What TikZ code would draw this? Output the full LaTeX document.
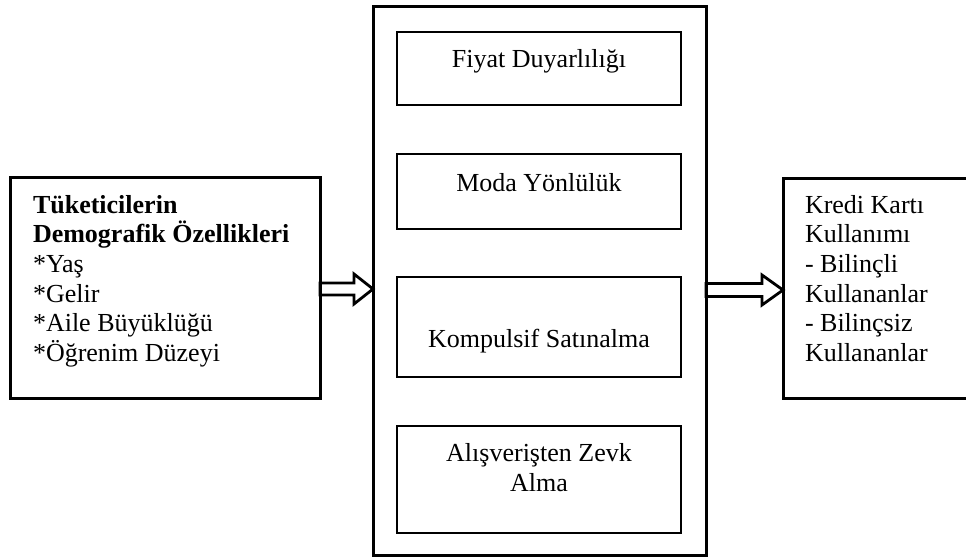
\documentclass[tikz,border=0pt]{standalone}
\usepackage{fontspec}
\setmainfont{Liberation Serif}
\begin{document}
\begin{tikzpicture}[x=1pt,y=-1pt,
  txt/.style={font=\fontsize{26}{29.7}\selectfont, inner sep=0pt, outer sep=0pt},
  bigbox/.style={draw, line width=3pt, inner sep=0pt, outer sep=0pt, anchor=north west},
  smallbox/.style={draw, line width=1.3pt, inner sep=0pt, outer sep=0pt, anchor=north west,
    minimum width=284pt},
  barrow/.style={draw, fill=white, line width=2.8pt, line join=miter}
]
\useasboundingbox (0,0) rectangle (966,557);
\clip (0,0) rectangle (966,557);
% boxes
\node[bigbox, minimum width=310pt, minimum height=221pt] (L) at (10,177) {};
\node[bigbox, minimum width=333pt, minimum height=549pt] (M) at (373,6) {};
\node[bigbox, minimum width=230pt, minimum height=220pt] (R) at (783,178) {};
\node[smallbox, minimum height=73pt] (B1) at (397,32) {};
\node[smallbox, minimum height=75pt] (B2) at (397,154) {};
\node[smallbox, minimum height=100pt] (B3) at (397,277) {};
\node[smallbox, minimum height=107pt] (B4) at (397,426) {};
% texts
\node[txt, anchor=base west] (Lt) at (33,213) {\parbox[t]{290pt}{\baselineskip=29.7pt
  \textbf{Tüketicilerin}\\
  \textbf{Demografik Özellikleri}\\
  {*}Yaş\\
  {*}Gelir\\
  {*}Aile Büyüklüğü\\
  {*}Öğrenim Düzeyi}};
\node[txt, anchor=base west] (Rt) at (805,213) {\parbox[t]{160pt}{\baselineskip=29.7pt
  Kredi Kartı\\
  Kullanımı\\
  - Bilinçli\\
  Kullananlar\\
  - Bilinçsiz\\
  Kullananlar}};
\node[txt, anchor=base] (T1) at (539,67) {Fiyat Duyarlılığı};
\node[txt, anchor=base] (T2) at (539,191) {Moda Yönlülük};
\node[txt, anchor=base] (T3) at (539,347) {Kompulsif Satınalma};
\node[txt, anchor=base] (T4) at (539,461) {\parbox[t]{284pt}{\centering\baselineskip=30.5pt
  Alışverişten Zevk\\ Alma}};
% block arrows
\coordinate (ltip) at (M.west |- 0,289);
\coordinate (lstart) at (L.east |- 0,289);
\draw[barrow] ([yshift=6pt]lstart) -- ([xshift=-19pt,yshift=6pt]ltip)
  -- ([xshift=-19pt,yshift=15pt]ltip) -- (ltip)
  -- ([xshift=-19pt,yshift=-15pt]ltip) -- ([xshift=-19pt,yshift=-6pt]ltip)
  -- ([yshift=-6pt]lstart) -- cycle;
\coordinate (rtip) at (R.west |- 0,290);
\coordinate (rstart) at (M.east |- 0,290);
\draw[barrow] ([yshift=6.5pt]rstart) -- ([xshift=-21pt,yshift=6.5pt]rtip)
  -- ([xshift=-21pt,yshift=15pt]rtip) -- (rtip)
  -- ([xshift=-21pt,yshift=-15pt]rtip) -- ([xshift=-21pt,yshift=-6.5pt]rtip)
  -- ([yshift=-6.5pt]rstart) -- cycle;
% redraw box borders over arrow ends
\draw[line width=3pt] (L.north east) -- (L.south east);
\draw[line width=3pt] (M.north east) -- (M.south east);
\end{tikzpicture}
\end{document}
